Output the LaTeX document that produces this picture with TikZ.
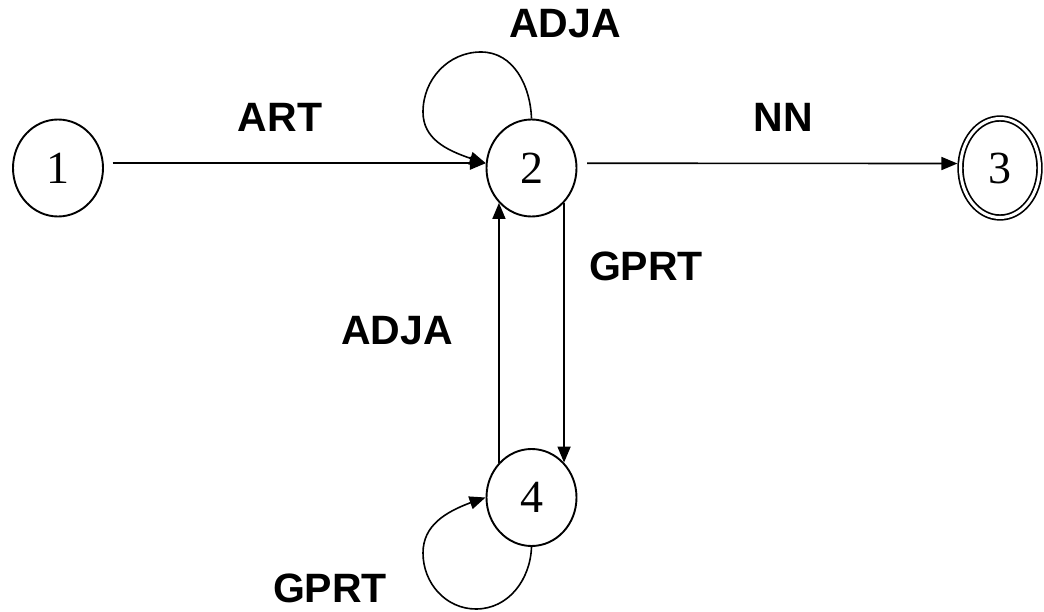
\documentclass[tikz,border=0pt]{standalone}
\usepackage{fontspec}
\setmainfont{Liberation Sans}
\newfontfamily\statefont{Liberation Serif}
\usetikzlibrary{arrows.meta,bending,shapes.geometric}

\begin{document}
\begin{tikzpicture}[x=1pt,y=1pt,
  state/.style={ellipse, draw, line width=1.9pt, inner sep=0pt,
    minimum width=90pt, minimum height=97pt,
    font=\statefont\fontsize{46}{46}\selectfont},
  accept/.style={state, double, double distance=3pt, line width=1.7pt,
    minimum width=79pt, minimum height=99pt, outer sep=3.2pt},
  edge/.style={line width=1.6pt, -{Triangle[length=16pt,width=13pt]}},
  lbl/.style={font=\bfseries\fontsize{41}{41}\selectfont, inner sep=0pt}]

\useasboundingbox (0,0) rectangle (1044,-612);

% states
\node[state]  (n1) at (58,-168)      {1};
\node[state]  (n2) at (531.5,-168)   {2};
\node[accept] (n3) at (1000,-168)    {3};
\node[state]  (n4) at (531.5,-497.5) {4};

% transitions between states
\draw[edge, shorten <=9pt]  (n1.6)   -- (n2.174);
\draw[edge, shorten <=10pt] (n2.6)   -- (n3.174);
\draw[edge] (n2.313) -- (n4.47);
\draw[edge] (n4.133) -- (n2.227);

% self loops
\coordinate (top2)  at (481,-52);
\coordinate (left2) at (423,-112);
\draw[edge] (n2.north) to[out=92,in=0] (top2)
  to[out=180,in=90] (left2) to[out=-90,in=163] (n2.174);

\coordinate (bot4)  at (476,-609);
\coordinate (left4) at (423,-553);
\draw[edge] (n4.south) to[out=-92,in=0] (bot4)
  to[out=180,in=-90] (left4) to[out=90,in=198] (n4.180);

% transition labels
\node[lbl] (lART)   at (280,-117) {ART};
\node[lbl] (lNN)    at (783,-117) {NN};
\node[lbl] (lADJA1) at (565,-24)  {ADJA};
\node[lbl] (lGPRT1) at (646,-266) {GPRT};
\node[lbl] (lADJA2) at (397,-331) {ADJA};
\node[lbl] (lGPRT2) at (330,-588) {GPRT};
\end{tikzpicture}
\end{document}
